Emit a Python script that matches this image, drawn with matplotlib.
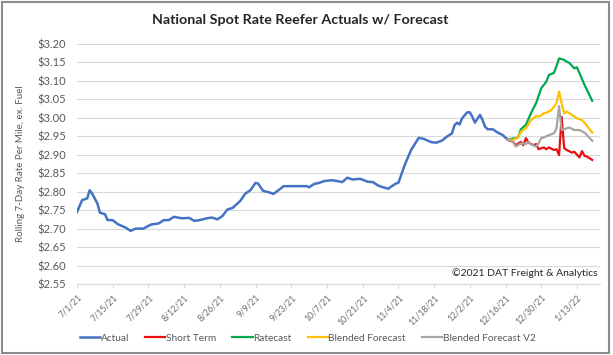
import matplotlib
matplotlib.use("Agg")
import matplotlib.pyplot as plt
import pandas as pd
from matplotlib.patches import Rectangle

plt.rcParams['font.family'] = ['Lato', 'DejaVu Sans']

start = pd.Timestamp("2021-07-01")

# days after 7/1/21 and rate values
actual_days = [0, 2, 4, 5, 6, 8, 9, 11, 12, 14, 16, 19, 21, 23, 26, 29, 32, 34, 36, 38,
               41, 44, 46, 48, 51, 53, 55, 57, 59, 61, 64, 66, 68, 70, 71, 73, 75, 77, 79, 81,
               90, 91, 93, 95, 97, 100, 102, 104, 106, 108, 111, 114, 116, 118, 120, 122, 123, 125, 126, 128,
               129, 131, 133, 134, 136, 139, 141, 143, 145, 147, 148, 149, 150, 151, 153, 154, 155, 156, 158, 159,
               160, 161, 163, 165, 167, 168, 169]
actual = [2.745, 2.777, 2.782, 2.804, 2.794, 2.768, 2.743, 2.739, 2.723, 2.723, 2.712, 2.703, 2.694, 2.700, 2.700, 2.711, 2.714, 2.723, 2.723, 2.732,
          2.728, 2.729, 2.721, 2.723, 2.728, 2.730, 2.725, 2.734, 2.752, 2.756, 2.775, 2.795, 2.804, 2.824, 2.822, 2.802, 2.799, 2.794, 2.804, 2.815,
          2.815, 2.812, 2.821, 2.824, 2.829, 2.831, 2.829, 2.826, 2.838, 2.833, 2.835, 2.827, 2.826, 2.817, 2.812, 2.808, 2.813, 2.822, 2.824, 2.863,
          2.881, 2.913, 2.935, 2.946, 2.943, 2.934, 2.933, 2.938, 2.949, 2.958, 2.980, 2.987, 2.982, 2.999, 3.015, 3.015, 3.003, 2.987, 3.008, 2.994,
          2.976, 2.969, 2.969, 2.960, 2.953, 2.946, 2.942]

short_days = [169, 171, 172, 174, 175, 176, 177, 179, 180, 181, 183, 184, 185, 187, 188, 189, 190, 191, 192, 194,
              195, 197, 198, 199, 200, 202]
short_term = [2.940, 2.935, 2.926, 2.935, 2.926, 2.945, 2.933, 2.926, 2.929, 2.915, 2.920, 2.915, 2.920, 2.913, 2.915, 2.899, 3.003, 2.918, 2.913, 2.906,
              2.908, 2.893, 2.910, 2.897, 2.895, 2.886]

rate_days = [169, 172, 173, 174, 176, 178, 180, 182, 184, 185, 187, 188, 189, 191, 192, 193, 195, 196, 197, 199, 202]
ratecast = [2.942, 2.945, 2.948, 2.969, 2.981, 3.013, 3.040, 3.080, 3.098, 3.116, 3.122, 3.140, 3.161, 3.157, 3.152, 3.149, 3.134, 3.137, 3.121, 3.089, 3.046]

blend_days = [169, 171, 173, 174, 176, 178, 180, 181, 183, 185, 186, 187, 188, 189, 190, 191, 192, 194, 196, 198, 200, 202]
blended = [2.942, 2.940, 2.948, 2.962, 2.972, 2.994, 3.005, 3.003, 3.012, 3.017, 3.021, 3.030, 3.040, 3.071, 3.040, 3.012, 3.017, 3.008, 2.999, 2.994, 2.978, 2.960]

v2_days = [169, 171, 172, 174, 176, 177, 178, 180, 181, 182, 183, 185, 186, 187, 188, 189, 190, 191, 193, 195, 197, 199, 202]
blended_v2 = [2.942, 2.935, 2.922, 2.931, 2.929, 2.935, 2.928, 2.922, 2.931, 2.945, 2.947, 2.953, 2.956, 2.958, 2.972, 3.032, 2.967, 2.969, 2.974, 2.967, 2.967, 2.960, 2.938]

def to_dates(days):
    return [start + pd.Timedelta(days=d) for d in days]

fig = plt.figure(figsize=(6.13, 3.55), dpi=100)
ax = fig.add_axes([0.1256, 0.2, 0.853, 0.676])

ax.plot(to_dates(actual_days), actual, color='#4472C4', lw=1.8, label='Actual')
ax.plot(to_dates(short_days), short_term, color='#E81010', lw=1.6, label='Short Term')
ax.plot(to_dates(rate_days), ratecast, color='#00A84F', lw=1.6, label='Ratecast')
ax.plot(to_dates(blend_days), blended, color='#FFC000', lw=1.6, label='Blended Forecast')
ax.plot(to_dates(v2_days), blended_v2, color='#A5A5A5', lw=1.6, label='Blended Forecast V2')

ax.set_ylim(2.55, 3.20)
ax.set_yticks([2.55 + 0.05 * i for i in range(14)])
ax.set_yticklabels(['${:.2f}'.format(2.55 + 0.05 * i) for i in range(14)])
ax.set_xlim(start, start + pd.Timedelta(days=205))
ticks = [start + pd.Timedelta(days=14 * i) for i in range(15)]
ax.set_xticks(ticks)
ax.set_xticklabels([f"{t.month}/{t.day}/{t.strftime('%y')}" for t in ticks], rotation=45,
                   ha='right', rotation_mode='anchor')
ax.tick_params(axis='x', labelsize=6.3, colors='#6b6b6b', length=3, color='#d9d9d9')
ax.tick_params(axis='y', labelsize=8, colors='#595959', length=0, pad=8)
ax.grid(axis='y', color='#d9d9d9', lw=0.8)
ax.set_axisbelow(True)
for s in ['left', 'right', 'top']:
    ax.spines[s].set_visible(False)
ax.spines['bottom'].set_color('#d9d9d9')

ax.set_ylabel('Rolling 7-Day Rate Per Mile, ex. Fuel', fontsize=7, color='#595959', labelpad=9)
fig.text(0.49, 0.945, 'National Spot Rate Reefer Actuals w/ Forecast', ha='center', va='center',
         fontsize=10.3, fontweight='bold', color='#262626')
ax.text(0.995, 0.045, '\u00a92021 DAT Freight & Analytics', transform=ax.transAxes, ha='right',
        va='center', fontsize=7.5, color='#262626')

fig.legend(loc='center', bbox_to_anchor=(0.502, 0.048), ncol=5, frameon=False, fontsize=7.3,
           handlelength=2.0, columnspacing=1.6, handletextpad=0.05, labelcolor='#595959')

fig.patches.append(Rectangle((0.003, 0.005), 0.99, 0.99, transform=fig.transFigure, fill=False,
                             edgecolor='#8c8c8c', lw=1.5))

fig.savefig('out.png', dpi=100, facecolor='white')
